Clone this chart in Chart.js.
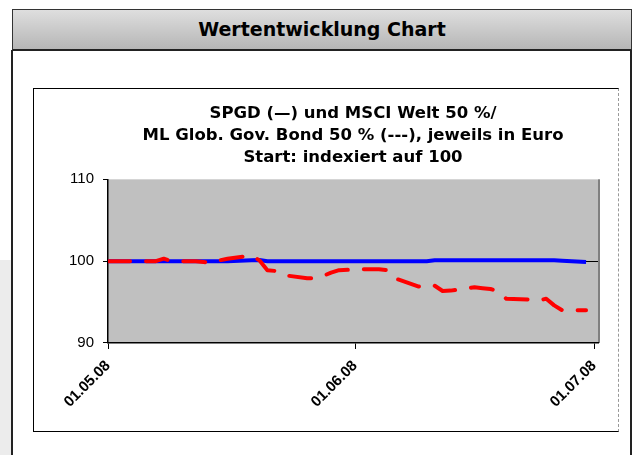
<!DOCTYPE html>
<html>
<head>
<meta charset="utf-8">
<script src="https://cdn.jsdelivr.net/npm/chart.js@4.4.1/dist/chart.umd.min.js"></script>
<style>
    html, body { margin: 0; padding: 0; background: #fff; }
    body { width: 634px; height: 455px; position: relative; overflow: hidden; }
    .shade { position: absolute; left: 0; top: 260px; width: 11px; height: 195px; background: #ececec; }
    .header {
        position: absolute; left: 12px; top: 9px; width: 618px; height: 39px;
        border: 1px solid #333; border-bottom: 2px solid #222;
        background: linear-gradient(#dedede, #b6b6b6);
        font: bold 19px "DejaVu Sans", sans-serif;
        color: #000; text-align: center; line-height: 39px;
    }
    .panel {
        position: absolute; left: 11px; top: 50px; width: 617px; height: 420px;
        border-left: 2px solid #222; border-right: 2px solid #222;
    }
    .box {
        position: absolute; left: 33px; top: 88px; width: 584px; height: 342px;
        border: 1px solid #000; border-right: 1px dashed #999;
    }
    canvas { display: block; }
</style>
</head>
<body>
<div class="shade"></div>
<div class="header">Wertentwicklung Chart</div>
<div class="panel"></div>
<div class="box"><canvas id="chart" width="584" height="342"></canvas></div>
<script>
// Tagesabstand zum 01.05.08 (Handelstage)
const days = [0, 1, 4, 5, 6, 7, 8, 11, 12, 13, 14, 15, 18, 19, 20, 21, 22, 25, 26, 27, 28, 29,
    32, 33, 34, 35, 36, 39, 40, 41, 42, 43, 46, 47, 48, 49, 50, 53, 54, 55, 56, 57, 60];

// MSCI Welt 50 % / ML Glob. Gov. Bond 50 % (gestrichelt)
const benchmark = [100, 100, 100, 100, 100, 100.3, 100, 100, 99.9, 99.8, 100.1, 100.3,
    100.7, 100.1, 98.9, 98.8, 98.3, 97.9, 97.95, 98.2, 98.6, 98.9,
    99.0, 99.0, 99.0, 98.9, 97.9, 96.9, 96.8, 97.0, 96.35, 96.4,
    96.8, 96.7, 96.6, 96.3, 95.4, 95.3, 95.2, 95.4, 94.6, 94.0, 94.0];

// SPGD (durchgezogen)
const spgd = [100, 100, 100, 100, 100, 100, 100, 100, 100, 100, 100, 100,
    100.1, 100.15, 100, 100, 100, 100, 100, 100, 100, 100,
    100, 100, 100, 100, 100, 100, 100, 100.1, 100.1, 100.1,
    100.1, 100.1, 100.1, 100.1, 100.1, 100.1, 100.1, 100.1, 100.1, 100.05, 99.9];

const tickDays = [0, 31, 61];
const tickLabels = ['01.05.08', '01.06.08', '01.07.08'];
const yTicks = [90, 100, 110];

const titleLines = [
    'SPGD (\u2014) und MSCI Welt 50 %/',
    'ML Glob. Gov. Bond 50 % (---), jeweils in Euro',
    'Start: indexiert auf 100'
];

function toPoints(values) {
    return values.map((v, i) => ({ x: days[i], y: v }));
}

// grauer Hintergrund der Zeichenfläche
const plotBackground = {
    id: 'plotBackground',
    beforeDraw(chart) {
        const { ctx, chartArea: a } = chart;
        ctx.save();
        ctx.fillStyle = '#c0c0c0';
        ctx.fillRect(a.left, a.top, a.right - a.left, a.bottom - a.top);
        ctx.strokeStyle = '#808080';
        ctx.lineWidth = 2;
        ctx.beginPath();
        ctx.moveTo(a.right + 1, a.top);
        ctx.lineTo(a.right + 1, a.bottom);
        ctx.stroke();
        ctx.restore();
    }
};

new Chart(document.getElementById('chart'), {
    type: 'line',
    data: {
        datasets: [{
            label: 'MSCI Welt 50 % / ML Glob. Gov. Bond 50 %',
            data: toPoints(benchmark),
            borderColor: '#ff0000',
            borderWidth: 4,
            borderDash: [22, 16],
            borderCapStyle: 'round',
            borderJoinStyle: 'round',
            pointRadius: 0,
            tension: 0
        }, {
            label: 'SPGD',
            data: toPoints(spgd),
            borderColor: '#0000ff',
            borderWidth: 4,
            borderJoinStyle: 'round',
            pointRadius: 0,
            tension: 0
        }]
    },
    options: {
        responsive: false,
        animation: false,
        layout: { padding: { left: 26, right: 20, top: 0, bottom: 12 } },
        plugins: {
            legend: { display: false },
            tooltip: { enabled: false },
            title: {
                display: true,
                fullSize: false,
                text: titleLines,
                color: '#000',
                font: { family: '"DejaVu Sans", sans-serif', size: 16.5, weight: 'bold', lineHeight: 1.32 },
                padding: { top: 14, bottom: 11 }
            }
        },
        scales: {
            x: {
                type: 'linear',
                min: 0,
                max: 61.5,
                afterBuildTicks: scale => { scale.ticks = tickDays.map(v => ({ value: v })); },
                ticks: {
                    color: '#000',
                    font: { family: '"Liberation Sans", Arial, sans-serif', size: 15, weight: 'bold' },
                    minRotation: 45,
                    maxRotation: 45,
                    padding: 8,
                    callback: value => tickLabels[tickDays.indexOf(value)]
                },
                grid: { drawOnChartArea: false, drawTicks: true, tickLength: 6, color: '#000' },
                border: { display: true, color: '#000', width: 1.5 }
            },
            y: {
                min: 90,
                max: 110,
                afterBuildTicks: scale => { scale.ticks = yTicks.map(v => ({ value: v })); },
                ticks: {
                    color: '#000',
                    font: { family: '"Liberation Sans", Arial, sans-serif', size: 15 },
                    padding: 9
                },
                grid: {
                    drawTicks: true,
                    tickLength: 5,
                    tickColor: '#000',
                    color: ctx => ctx.tick && ctx.tick.value === 100 ? '#000' : 'rgba(0,0,0,0)'
                },
                border: { display: true, color: '#000', width: 1.5 }
            }
        }
    },
    plugins: [plotBackground]
});
</script>
</body>
</html>
